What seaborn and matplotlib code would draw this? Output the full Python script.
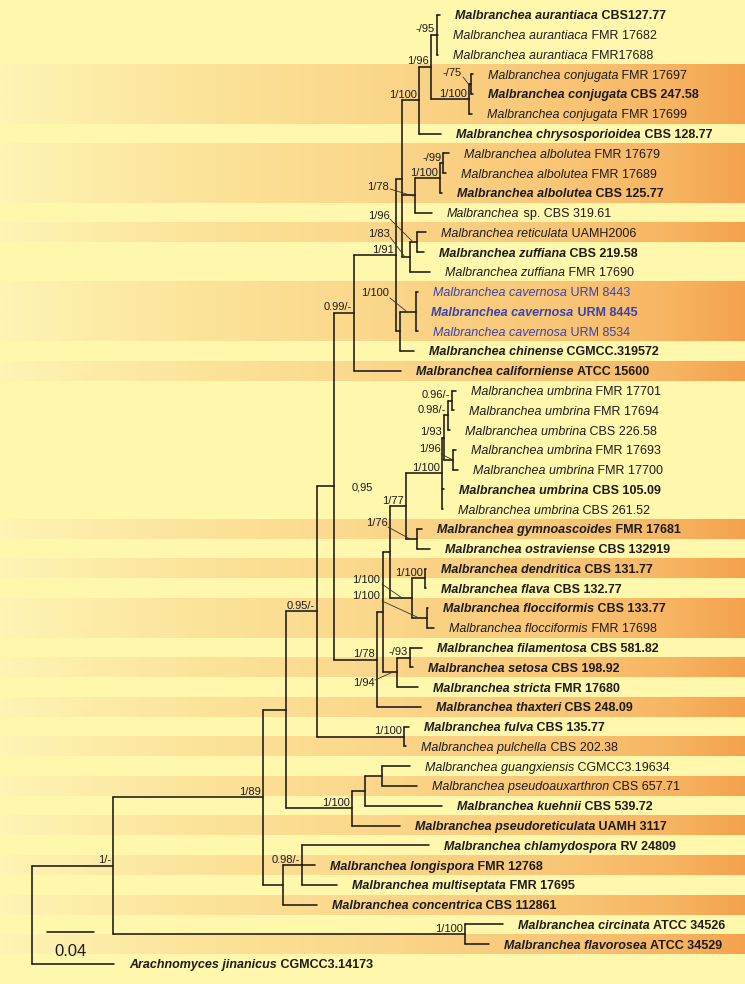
import numpy as np
import pandas as pd
import matplotlib
matplotlib.use("Agg")
import matplotlib.pyplot as plt
import seaborn as sns
from matplotlib.colors import LinearSegmentedColormap

# ---------------- data ----------------
leaf_species = [
    "Malbranchea aurantiaca", "Malbranchea aurantiaca", "Malbranchea aurantiaca",
    "Malbranchea conjugata", "Malbranchea conjugata", "Malbranchea conjugata",
    "Malbranchea chrysosporioidea",
    "Malbranchea albolutea", "Malbranchea albolutea", "Malbranchea albolutea",
    "Malbranchea", "Malbranchea reticulata",
    "Malbranchea zuffiana", "Malbranchea zuffiana",
    "Malbranchea cavernosa", "Malbranchea cavernosa", "Malbranchea cavernosa",
    "Malbranchea chinense", "Malbranchea californiense",
    "Malbranchea umbrina", "Malbranchea umbrina", "Malbranchea umbrina",
    "Malbranchea umbrina", "Malbranchea umbrina", "Malbranchea umbrina",
    "Malbranchea umbrina",
    "Malbranchea gymnoascoides", "Malbranchea ostraviense",
    "Malbranchea dendritica", "Malbranchea flava",
    "Malbranchea flocciformis", "Malbranchea flocciformis",
    "Malbranchea filamentosa", "Malbranchea setosa", "Malbranchea stricta",
    "Malbranchea thaxteri", "Malbranchea fulva", "Malbranchea pulchella",
    "Malbranchea guangxiensis", "Malbranchea pseudoauxarthron",
    "Malbranchea kuehnii", "Malbranchea pseudoreticulata",
    "Malbranchea chlamydospora", "Malbranchea longispora",
    "Malbranchea multiseptata", "Malbranchea concentrica",
    "Malbranchea circinata", "Malbranchea flavorosea",
    "Arachnomyces jinanicus",
]
leaf_strain = [
    "CBS127.77", "FMR 17682", "FMR17688",
    "FMR 17697", "CBS 247.58", "FMR 17699",
    "CBS 128.77",
    "FMR 17679", "FMR 17689", "CBS 125.77",
    "sp. CBS 319.61", "UAMH2006",
    "CBS 219.58", "FMR 17690",
    "URM 8443", "URM 8445", "URM 8534",
    "CGMCC.319572", "ATCC 15600",
    "FMR 17701", "FMR 17694", "CBS 226.58", "FMR 17693", "FMR 17700",
    "CBS 105.09", "CBS 261.52",
    "FMR 17681", "CBS 132919",
    "CBS 131.77", "CBS 132.77",
    "CBS 133.77", "FMR 17698",
    "CBS 581.82", "CBS 198.92", "FMR 17680",
    "CBS 248.09", "CBS 135.77", "CBS 202.38",
    "CGMCC3.19634", "CBS 657.71",
    "CBS 539.72", "UAMH 3117",
    "RV 24809", "FMR 12768", "FMR 17695", "CBS 112861",
    "ATCC 34526", "ATCC 34529",
    "CGMCC3.14173",
]
leaf_bold = [1, 0, 0, 0, 1, 0, 1, 0, 0, 1, 0, 0, 1, 0, 0, 1, 0, 1, 1,
             0, 0, 0, 0, 0, 1, 0, 1, 1, 1, 1, 1, 0, 1, 1, 1, 1, 1, 0,
             0, 0, 1, 1, 1, 1, 1, 1, 1, 1, 1]
leaf_parent = ["AU", "AU", "AU", "CJ2", "CJ2", "CJ1", "N2", "ALB2", "ALB2", "ALB",
               "ALBP", "RZ2", "RZ2", "RZ", "CV", "CV", "CV", "N5", "L",
               "AA2", "AA2", "AA", "AB", "AB", "X", "X", "Y", "Y", "V", "V",
               "W", "W", "S", "S", "R", "M", "K", "K", "H", "H", "G", "F",
               "D2", "D2", "D2", "D", "C", "C", "root"]
leaf_bl = [0.0026, 0.0009, 0.0009, 0.0017, 0.0017, 0.0026, 0.0187, 0.0051, 0.0026,
           0.0017, 0.0145, 0.0077, 0.0060, 0.0170, 0.0017, 0.0004, 0.0017, 0.0119,
           0.0400, 0.0034, 0.0017, 0.0017, 0.0026, 0.0043, 0.0017, 0.0009, 0.0043,
           0.0111, 0.0009, 0.0009, 0.0009, 0.0060, 0.0102, 0.0026, 0.0179, 0.0374,
           0.0043, 0.0017, 0.0238, 0.0298, 0.0655, 0.0408, 0.1081, 0.0111, 0.0298,
           0.0289, 0.0323, 0.0204, 0.0698]

node_names = ["root", "A", "B", "C", "D", "D2", "E", "F", "G", "H", "I", "K", "J",
              "L", "N", "N4", "N2", "N3", "AU", "CJ1", "CJ2", "ALBP", "ALB", "ALB2",
              "RZ", "RZ2", "N5", "CV", "M", "P", "Q", "T", "X", "Z", "AA", "AA2",
              "AB", "Y", "U", "V", "W", "R", "S"]
node_parent = [None, "root", "A", "A", "B", "D", "B", "E", "F", "G", "E", "I", "I",
               "J", "L", "N", "N4", "N2", "N3", "N3", "CJ1", "N4", "ALBP", "ALB",
               "N4", "RZ", "N", "N5", "J", "M", "P", "Q", "T", "X", "Z", "AA",
               "Z", "T", "Q", "U", "U", "P", "R"]
node_bl = [0.0, 0.0689, 0.1277, 0.2996, 0.0170, 0.0162, 0.0196, 0.0562, 0.0111,
           0.0145, 0.0264, 0.0740, 0.0145, 0.0170, 0.0357, 0.0051, 0.0145, 0.0102,
           0.0051, 0.0323, 0.0017, 0.0111, 0.0213, 0.0026, 0.0068, 0.0060, 0.0034,
           0.0136, 0.0366, 0.0051, 0.0060, 0.0136, 0.0306, 0.0017, 0.0034, 0.0034,
           0.0077, 0.0094, 0.0187, 0.0111, 0.0128, 0.0119, 0.0111]
node_support = ["", "1/-", "1/89", "1/100", "", "0.98/-", "", "1/100", "", "",
                "0.95/-", "1/100", "0,95", "0.99/-", "1/91", "", "1/100", "1/96",
                "-/95", "1/100", "-/75", "1/78", "1/100", "-/99", "1/83", "1/96",
                "", "1/100", "1/78", "", "", "1/77", "1/100", "1/93", "0.98/-",
                "0.96/-", "1/96", "1/76", "1/100", "1/100", "1/100", "1/94", "-/93"]

scale_value = 0.04
highlight_species = "Malbranchea cavernosa"

# ---------------- layout helpers (pixel -> data) ----------------
W_PX, H_PX = 745, 984
KX = scale_value / 47.0          # data units per pixel (x)
ROW = 19.77                      # pixels per row
X0_PX, Y0_PX = 32.0, 15.0


def px_x(p):
    return (p - X0_PX) * KX


def px_y(p):
    return (p - Y0_PX) / ROW


# ---------------- compute tree layout ----------------
children = {n: [] for n in node_names}
for i, p in enumerate(leaf_parent):
    children[p].append(("leaf", i))
for n, p in zip(node_names, node_parent):
    if p is not None:
        children[p].append(("node", n))

nbl = dict(zip(node_names, node_bl))
node_x, node_y = {}, {}
leaf_x = [0.0] * len(leaf_species)
leaf_y = list(range(len(leaf_species)))


def set_x(n, x):
    node_x[n] = x
    for kind, c in children[n]:
        if kind == "leaf":
            leaf_x[c] = x + leaf_bl[c]
        else:
            set_x(c, x + nbl[c])


def get_y(n):
    ys = []
    for kind, c in children[n]:
        ys.append(leaf_y[c] if kind == "leaf" else get_y(c))
    node_y[n] = (min(ys) + max(ys)) / 2.0
    return node_y[n]


set_x("root", 0.0)
get_y("root")

segs = []
sid = 0
for n in node_names:
    ys = []
    for kind, c in children[n]:
        if kind == "leaf":
            cy, cx = leaf_y[c], leaf_x[c]
        else:
            cy, cx = node_y[c], node_x[c]
        ys.append(cy)
        segs += [(sid, node_x[n], cy), (sid, cx, cy)]
        sid += 1
    segs += [(sid, node_x[n], min(ys)), (sid, node_x[n], max(ys))]
    sid += 1
# scale bar
sb_y = px_y(932)
segs += [(sid, px_x(47), sb_y), (sid, px_x(47) + scale_value, sb_y)]
seg_df = pd.DataFrame(segs, columns=["seg", "x", "y"])

# ---------------- figure ----------------
sns.set_theme(style="white")
plt.rcParams["font.family"] = ["Liberation Sans", "DejaVu Sans"]

PALE = "#FFF7AB"
fig = plt.figure(figsize=(W_PX / 100, H_PX / 100), dpi=100, facecolor=PALE)
ax = fig.add_axes([0, 0, 1, 1])
ax.set_facecolor(PALE)
xmin, xmax = px_x(0), px_x(W_PX)
ymin, ymax = px_y(0), px_y(H_PX)

# background bands: alternate by species group
cmap = LinearSegmentedColormap.from_list(
    "band", [(0.0, "#FEF4B4"), (0.25, "#FCE49B"), (0.5, "#FBD78B"),
             (0.75, "#F9C676"), (0.9, "#F7B562"), (1.0, "#F4A24E")])
grad = cmap(np.linspace(0, 1, 400))[None, :, :3]
groups = []
for i, sp in enumerate(leaf_species):
    if i == 0 or sp != leaf_species[i - 1]:
        groups.append([i, i])
    else:
        groups[-1][1] = i
for gi, (a, b) in enumerate(groups):
    if gi % 2 == 1:
        ax.imshow(grad, extent=(xmin, xmax, b + 0.5, a - 0.5), aspect="auto",
                  interpolation="bilinear", zorder=0)

sns.lineplot(data=seg_df, x="x", y="y", units="seg", estimator=None, sort=False,
             color="#1a1a1a", linewidth=1.15, ax=ax, legend=False, zorder=3)

ax.set_xlim(xmin, xmax)
ax.set_ylim(ymax, ymin)
ax.axis("off")

renderer = fig.canvas.get_renderer()
inv = ax.transData.inverted()

TXT = "#1c1c1c"
BLUE = "#3B43AA"
LFS = 9.0
gap = 15 * KX
for i, (sp, st) in enumerate(zip(leaf_species, leaf_strain)):
    col = BLUE if sp == highlight_species else TXT
    w = "bold" if leaf_bold[i] else "normal"
    yb = leaf_y[i] + 4.4 / ROW
    t1 = ax.text(leaf_x[i] + gap, yb, sp, style="italic", weight=w, color=col,
                 fontsize=LFS, va="baseline", ha="left", zorder=5)
    bb = t1.get_window_extent(renderer=renderer)
    xe = inv.transform((bb.x1, bb.y0))[0]
    ax.text(xe, yb, " " + st, weight=w, color=col, fontsize=LFS,
            va="baseline", ha="left", zorder=5)

# support values
specials = {
    "CJ2": (462, 73, (463, 77), (470, 86)),
    "ALBP": (389, 187, (390, 189), (413, 196)),
    "RZ2": (390, 216, (390, 219), (412, 241)),
    "RZ": (390, 234, (390, 237), (405, 257)),
    "CV": (389, 293, (390, 298), (406, 311)),
    "Y": (388, 523, (388, 527), (410, 539)),
    "U": (380, 580, (382, 584), (402, 598)),
    "W": (380, 596, (382, 601), (417, 617)),
    "R": (375, 683, (375, 680), (393, 672)),
    "AB": (441, 449, (441, 454), (453, 460)),
    "J": (373, 488, None, None),
}
SFS = 8.0
for n, lab in zip(node_names, node_support):
    if not lab:
        continue
    if n in specials:
        rx, cy, p0, p1 = specials[n]
        ax.text(px_x(rx), px_y(cy), lab, fontsize=SFS, color=TXT, ha="right",
                va="center", zorder=5)
        if p0 is not None:
            ax.plot([px_x(p0[0]), px_x(p1[0])], [px_y(p0[1]), px_y(p1[1])],
                    color="#333333", lw=0.6, zorder=4)
    else:
        ax.text(node_x[n] - 2 * KX, node_y[n] - 5.5 / ROW, lab, fontsize=SFS,
                color=TXT, ha="right", va="center", zorder=5)

ax.text(px_x(47) + scale_value / 2, px_y(951), f"{scale_value:.2f}", fontsize=12,
        color=TXT, ha="center", va="center")

fig.savefig("out.png", dpi=100, facecolor=PALE)
